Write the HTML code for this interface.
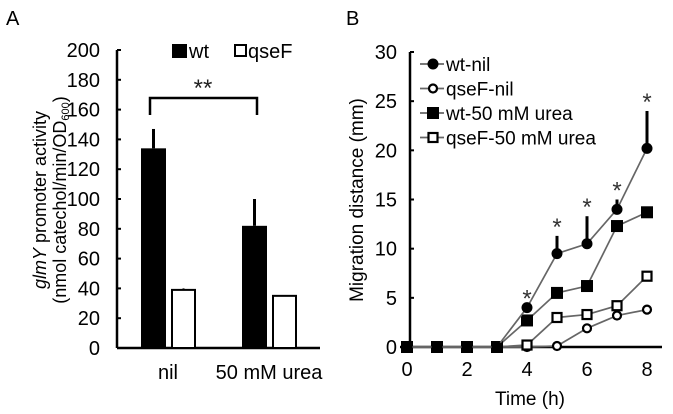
<!DOCTYPE html>
<html><head><meta charset="utf-8"><style>
body{margin:0;background:#fff}
svg{display:block;font-family:"Liberation Sans",Arial,sans-serif}
</style></head><body>
<svg id="c" width="673" height="414" viewBox="0 0 673 414">
<text x="6" y="25" font-size="20">A</text>
<text x="346" y="25" font-size="20">B</text>
<g id="A"></g><g id="B"></g>
</svg>
<script>
const NS="http://www.w3.org/2000/svg";
function mk(p,t,a,txt){const e=document.createElementNS(NS,t);for(const k in a)e.setAttribute(k,a[k]);if(txt!==undefined)e.textContent=txt;p.appendChild(e);return e;}
// Panel A data
const aCategories=["nil","50 mM urea"];
const aWt=[134,82];
const aWtErr=[13,18];
const aQse=[39,35];
const aQseErr=[1,0];
const aTicks=[0,20,40,60,80,100,120,140,160,180,200];
// Panel B data
const bTimes=[0,1,2,3,4,5,6,7,8];
const bTickLabels=[0,2,4,6,8];
const bYTicks=[0,5,10,15,20,25,30];
const wtNil=[0,0,0,0,4,9.5,10.5,14,20.2];
const wtNilErr=[0,0,0,0,0,1.8,2.8,1,3.8];
const qseNil=[0,0,0,0,0,0.1,1.9,3.2,3.8];
const wtUrea=[0,0,0,0,2.7,5.5,6.2,12.3,13.7];
const qseUrea=[0,0,0,0,0.2,3,3.3,4.2,7.2];
const starTimes=[4,5,6,7,8];

// ---- Panel A
const A=document.getElementById('A');
const ay=v=>348-v*1.49;
const ax0=117;
aTicks.forEach(t=>{
 const l=mk(A,'line',{x1:ax0,x2:ax0+4,y1:ay(t),y2:ay(t),stroke:'#000','stroke-width':2});
 
 const tx=mk(A,'text',{x:100,y:ay(t)+7,'font-size':20,'text-anchor':'end'},t);
 
});
let e=mk(A,'line',{x1:ax0,x2:ax0,y1:ay(200),y2:ay(0),stroke:'#000','stroke-width':2.5});

e=mk(A,'line',{x1:ax0,x2:320,y1:ay(0),y2:ay(0),stroke:'#000','stroke-width':2.5});

const groupX=[141,242];
aCategories.forEach((c,i)=>{
 const gx=groupX[i];
 const eb=mk(A,'line',{x1:gx+12.5,x2:gx+12.5,y1:ay(aWt[i]+aWtErr[i]),y2:ay(aWt[i]),stroke:'#000','stroke-width':3});
 
 const b=mk(A,'rect',{x:gx,y:ay(aWt[i]),width:25,height:ay(0)-ay(aWt[i]),fill:'#000'});
 
 if(aQseErr[i]>0){const q=mk(A,'line',{x1:gx+42.5,x2:gx+42.5,y1:ay(aQse[i]+aQseErr[i]),y2:ay(aQse[i]),stroke:'#000','stroke-width':2});
 }
 const b2=mk(A,'rect',{x:gx+31,y:ay(aQse[i]),width:23,height:ay(0)-ay(aQse[i]),fill:'#fff',stroke:'#000','stroke-width':2});
 
 const t=mk(A,'text',{x:gx+27,y:379,'font-size':20,'text-anchor':'middle'},c);
 
});
e=mk(A,'path',{d:'M150 115 V98 H257 V115',fill:'none',stroke:'#000','stroke-width':2.5});

e=mk(A,'text',{x:203,y:96,'font-size':24,'text-anchor':'middle',fill:'#222'},'**');

e=mk(A,'rect',{x:172,y:44,width:15,height:14,fill:'#000'});

e=mk(A,'text',{x:189,y:58,'font-size':20},'wt');

e=mk(A,'rect',{x:235,y:45,width:11,height:11,fill:'#fff',stroke:'#000','stroke-width':2});

e=mk(A,'text',{x:248,y:58,'font-size':20},'qseF');

e=mk(A,'text',{transform:'translate(46,200) rotate(-90)','font-size':18,'text-anchor':'middle'});

e.innerHTML='<tspan font-style="italic">glmY</tspan> promoter activity';
e=mk(A,'text',{transform:'translate(66,200) rotate(-90)','font-size':18,'text-anchor':'middle'});

e.innerHTML='(nmol catechol/min/OD<tspan font-size="11" dy="3">600</tspan><tspan dy="-3">)</tspan>';

// ---- Panel B
const B=document.getElementById('B');
const bx=t=>407+t*30;
const by=v=>347-v*(295/30);
bYTicks.forEach(t=>{
 const l=mk(B,'line',{x1:410,x2:414,y1:by(t),y2:by(t),stroke:'#000','stroke-width':2});
 
 const tx=mk(B,'text',{x:397,y:by(t)+7,'font-size':20,'text-anchor':'end'},t);
 
});
bTickLabels.forEach(t=>{
 const tx=mk(B,'text',{x:bx(t),y:376,'font-size':20,'text-anchor':'middle'},t);
 
});
e=mk(B,'line',{x1:410,x2:410,y1:by(30),y2:by(0),stroke:'#000','stroke-width':2.5});

e=mk(B,'line',{x1:400,x2:662,y1:by(0),y2:by(0),stroke:'#000','stroke-width':2.5});

e=mk(B,'text',{x:530,y:405,'font-size':19,'text-anchor':'middle'},'Time (h)');

e=mk(B,'text',{transform:'translate(363,200) rotate(-90)','font-size':19,'text-anchor':'middle'},'Migration distance (mm)');

bTimes.forEach((t,i)=>{if(wtNilErr[i]>0){const l=mk(B,'line',{x1:bx(t),x2:bx(t),y1:by(wtNil[i]+wtNilErr[i]),y2:by(wtNil[i]),stroke:'#000','stroke-width':3});
 }});
starTimes.forEach(t=>{const i=bTimes.indexOf(t);const top=wtNil[i]+wtNilErr[i];
 const s=mk(B,'text',{x:bx(t),y:by(top)-1,'font-size':24,'text-anchor':'middle',fill:'#333'},'*');
 });
function marker(g,x,y,type,name){
 let m;
 if(type==='fc')m=mk(g,'circle',{cx:x,cy:y,r:5.5,fill:'#000'});
 else if(type==='oc')m=mk(g,'circle',{cx:x,cy:y,r:4,fill:'#fff',stroke:'#000','stroke-width':2.2});
 else if(type==='fs')m=mk(g,'rect',{x:x-6,y:y-6,width:12,height:12,fill:'#000'});
 else m=mk(g,'rect',{x:x-4.5,y:y-4.5,width:9,height:9,fill:'#fff',stroke:'#000','stroke-width':2.2});
 
}
const series=[[qseNil,'oc','qsef-nil'],[qseUrea,'os','qsef-urea'],[wtUrea,'fs','wt-urea'],[wtNil,'fc','wt-nil']];
series.forEach(([vals,type,name])=>{
 const g=mk(B,'g',{});
 const p=mk(g,'polyline',{points:bTimes.map((t,i)=>bx(t)+','+by(vals[i])).join(' '),fill:'none',stroke:'#666','stroke-width':1.7});
 
 bTimes.forEach((t,i)=>marker(g,bx(t),by(vals[i]),type,'point-'+name));
});
const legend=[['fc','wt-nil'],['oc','qseF-nil'],['fs','wt-50 mM urea'],['os','qseF-50 mM urea']];
legend.forEach(([type,lab],i)=>{
 const y=64+i*24.5;
 const g=mk(B,'g',{});
 const l=mk(g,'line',{x1:420,x2:444,y1:y,y2:y,stroke:'#666','stroke-width':1.7});
 
 marker(g,433,y,type,'legend-marker');
 const t=mk(g,'text',{x:446,y:y+7,'font-size':19},lab);
 
});
</script>
</body></html>
